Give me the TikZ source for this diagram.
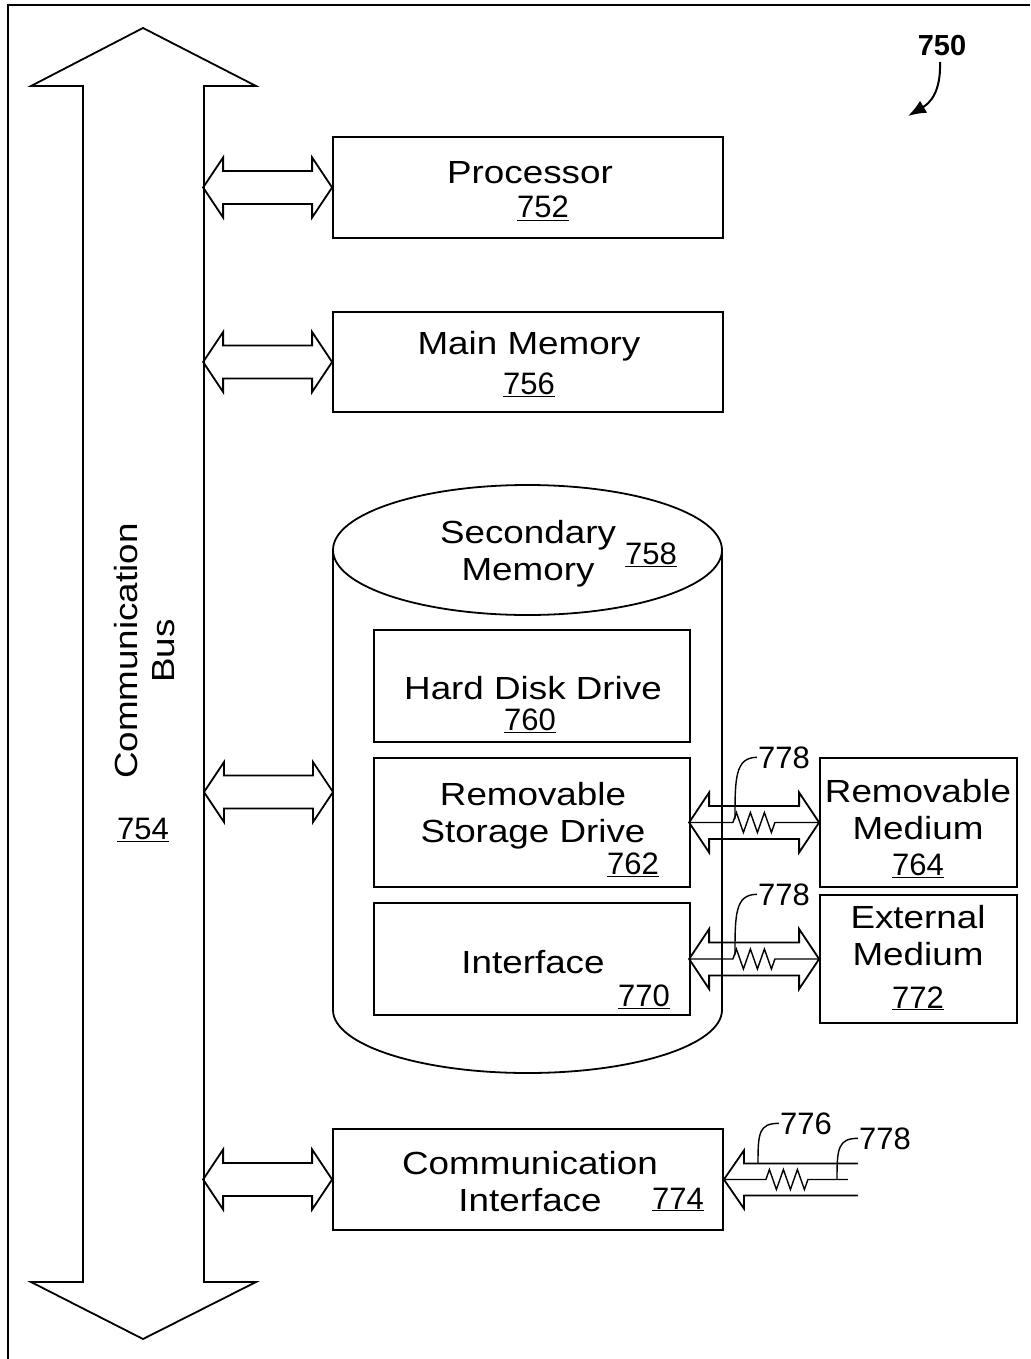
\documentclass[tikz,border=0pt]{standalone}
\usepackage{fontspec}
\setmainfont{Liberation Sans}[FakeStretch=1.15]
\newfontfamily\numfont{Liberation Sans}
\usetikzlibrary{arrows.meta}

\tikzset{
  box/.style={draw, line width=1.8pt, inner sep=0pt},
  hollow/.style={draw, line width=1.8pt, line join=miter},
  txt/.style={anchor=base, inner sep=0pt, align=center, font=\fontsize{32}{37}\selectfont},
  num/.style={anchor=base, inner sep=1pt, font=\numfont\fontsize{31}{37}\selectfont},
  lead/.style={line width=1.4pt}
}
% hollow double arrow: #1 right tip, #2 shaft length
\newcommand\dblarrow[2]{%
  \draw[hollow] (#1) -- ++(-20,-30) -- ++(0,13.5) -- ++(-#2,0) -- ++(0,-13.5)
    -- ++(-20,30) -- ++(20,30) -- ++(0,-13.5) -- ++(#2,0) -- ++(0,13.5) -- cycle;}
\newcommand\resistor{-- ++(3.5,-10) -- ++(7,20) -- ++(7,-20) -- ++(7,20) -- ++(7,-20) -- ++(7,20) -- ++(3.5,-10)}

\begin{document}
\begin{tikzpicture}[x=1pt,y=-1pt]
\useasboundingbox (0,0) rectangle (1030,1359);
\draw[line width=2pt] (8,1359) -- (8,5) -- (1030,5);

% bus
\draw[hollow] (143,28) -- (256,86) -- (204,86) -- (204,1282) -- (256,1282) -- (143,1339)
  -- (31,1282) -- (83,1282) -- (83,86) -- (31,86) -- cycle;
\node[txt, anchor=center, rotate=90] (bustxt) at (145,651) {Communication\\Bus};
\node[num] (n754) at (143,839) {\underline{754}};

% boxes
\node[box, minimum width=390, minimum height=101] (proc) at (528,187.5) {};
\node[box, minimum width=390, minimum height=100] (mem) at (528,362) {};

% secondary memory
\draw[hollow] (527.5,550) ellipse[x radius=194.5, y radius=65];
\draw[hollow] (333,550) -- (333,1010) arc[start angle=180, end angle=0, x radius=194.5, y radius=63] -- (722,550);
\coordinate (secin) at (333,792);

\node[box, minimum width=316, minimum height=112] (hdd) at (532,686) {};
\node[box, minimum width=316, minimum height=129] (rsd) at (532,822.5) {};
\node[box, minimum width=316, minimum height=112] (intf) at (532,959) {};
\node[box, minimum width=197, minimum height=129] (rmed) at (918.5,822.5) {};
\node[box, minimum width=197, minimum height=128] (emed) at (918.5,959) {};
\node[box, minimum width=390, minimum height=101] (comm) at (528,1179.5) {};

% texts (multi-line ones sit on their last baseline)
\node[txt] at (530,183) {Processor};
\node[num] at (543,218) {\underline{752}};
\node[txt] at (529,354) {Main Memory};
\node[num] at (529,394) {\underline{756}};
\node[txt] at (528,580) {Secondary\\Memory};
\node[num] at (651,564) {\underline{758}};
\node[txt] at (533,699) {Hard Disk Drive};
\node[num] at (530,730) {\underline{760}};
\node[txt] at (533,842) {Removable\\Storage Drive};
\node[num] at (633,874) {\underline{762}};
\node[txt] at (533,973) {Interface};
\node[num] at (644,1006) {\underline{770}};
\node[txt] at (918,839) {Removable\\Medium};
\node[num] at (918,875) {\underline{764}};
\node[txt] at (918,965) {External\\Medium};
\node[num] at (918,1008) {\underline{772}};
\node[txt] at (530,1211) {Communication\\Interface};
\node[num] at (678,1209) {\underline{774}};

% bus connections
\dblarrow{proc.west}{89}
\dblarrow{mem.west}{89}
\dblarrow{secin}{89}
\dblarrow{comm.west}{89}

% media links
\dblarrow{rmed.west}{90}
\dblarrow{emed.west}{90}
\draw[lead] (rsd.east) -- ++(42,0) \resistor -- (rmed.west);
\draw[lead] (intf.east) -- ++(42,0) \resistor -- (emed.west);
\node[num] (l778a) at (784,768) {778};
\node[num] (l778b) at (784,905) {778};
\draw[lead] (l778a.west) .. controls +(-22,0) and +(0,-40) .. (735,819);
\draw[lead] (l778b.west) .. controls +(-22,0) and +(0,-40) .. (735,955);

% incoming channel
\draw[hollow] (comm.east) -- ++(20,-29) -- ++(0,13) -- ++(114,0);
\draw[hollow] (comm.east) -- ++(20,29) -- ++(0,-13) -- ++(114,0);
\draw[lead] (comm.east) -- ++(42,0) \resistor -- ++(40,0);
\node[num] (l776) at (806,1134) {776};
\node[num] (l778c) at (885,1149) {778};
\draw[lead] (l776.west) .. controls +(-20,0) and +(0,-30) .. (758,1163);
\draw[lead] (l778c.west) .. controls +(-20,0) and +(0,-30) .. (837,1179);

% figure number
\node[num, font=\numfont\bfseries\fontsize{29}{37}\selectfont] (fig) at (942,56) {750};
\draw[line width=2pt, -{Latex[length=18pt,width=14pt]}] (940,62) .. controls (941,92) and (930,103) .. (908,116);
\end{tikzpicture}
\end{document}
